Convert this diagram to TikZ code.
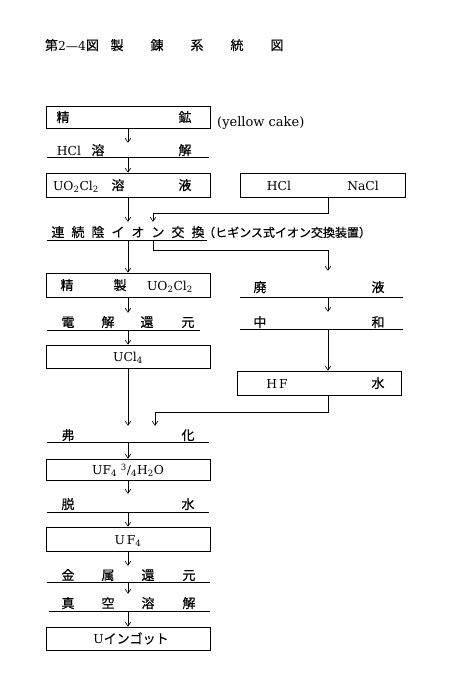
\documentclass[tikz,border=0pt]{standalone}
\usepackage{fontspec}
\setmainfont{DejaVu Serif}
\newfontfamily\jp[FakeBold=0.4]{Noto Sans CJK JP}
\usetikzlibrary{arrows.meta}
\newcommand{\J}[1]{{\jp\fontsize{13}{15}\selectfont #1}}
\tikzset{
  txt/.style={anchor=base, inner sep=0pt, font=\fontsize{12.3}{14}\selectfont},
  jt/.style={anchor=base, inner sep=0pt, font=\jp\fontsize{13}{15}\selectfont},
  bx/.style={draw, line width=0.7pt, inner sep=0pt},
  ul/.style={inner sep=0pt},
  ln/.style={line width=0.7pt},
  arr/.style={line width=0.6pt, -{Straight Barb[length=4pt,width=5.5pt]}}
}
\begin{document}
\begin{tikzpicture}[x=1pt,y=-1pt]
\useasboundingbox (0,0) rectangle (455,689);
% title
\node[txt] (tA) at (72,50) {\J{第}2—4\J{図}};
\node[jt] (tB) at (117,50) {製};
\node[jt] (tC) at (157,50) {錬};
\node[jt] (tD) at (197,50) {系};
\node[jt] (tE) at (237,50) {統};
\node[jt] (tF) at (277,50) {図};

% boxes (left column)
\node[bx, minimum width=164pt, minimum height=22pt] (b1) at (128,117) {};
\node[bx, minimum width=164pt, minimum height=24pt] (b2) at (128,185) {};
\node[bx, minimum width=164pt, minimum height=24pt] (b3) at (128,285) {};
\node[bx, minimum width=164pt, minimum height=23pt] (b4) at (128,356.5) {};
\node[bx, minimum width=164pt, minimum height=21pt] (b5) at (128,469.5) {};
\node[bx, minimum width=164pt, minimum height=24pt] (b6) at (128,539) {};
\node[bx, minimum width=164pt, minimum height=23pt] (b7) at (128,638.5) {};
% boxes (right column)
\node[bx, minimum width=165pt, minimum height=24pt] (r1) at (322.5,185) {};
\node[bx, minimum width=164pt, minimum height=24pt] (r2) at (319,383) {};

% underlined steps
\node[ul, minimum width=162pt, minimum height=14pt] (s1) at (128,150) {};
\node[ul, minimum width=160pt, minimum height=18pt] (s2) at (127,231) {};
\node[ul, minimum width=153pt, minimum height=17pt] (s3) at (123.5,321.5) {};
\node[ul, minimum width=162pt, minimum height=16pt] (s4) at (128,434) {};
\node[ul, minimum width=162pt, minimum height=18pt] (s5) at (128,503) {};
\node[ul, minimum width=163pt, minimum height=16pt] (s6) at (128.5,574) {};
\node[ul, minimum width=161pt, minimum height=17pt] (s7) at (129.5,602.5) {};
\node[ul, minimum width=163pt, minimum height=26pt] (w1) at (321.5,284) {};
\node[ul, minimum width=163pt, minimum height=17pt] (n1) at (321.5,320.5) {};
\foreach \n in {s1,s2,s3,s4,s5,s6,s7,w1,n1}
  \draw[ln] (\n.south west) -- (\n.south east);

% texts
\node[jt] (x1a) at (63,122) {精};
\node[jt] (x1b) at (185,122) {鉱};
\node[txt, anchor=base west, font=\fontsize{13}{15}\selectfont] (x1c) at (217,126) {(yellow cake)};
\node[txt] (x2a) at (69,155) {HCl};
\node[jt] (x2b) at (98,155) {溶};
\node[jt] (x2c) at (185,155) {解};
\node[txt] (x3a) at (76,190) {UO\textsubscript{2}Cl\textsubscript{2}};
\node[jt] (x3b) at (118,190) {溶};
\node[jt] (x3c) at (185,190) {液};
\node[txt] (x4a) at (279,190) {HCl};
\node[txt] (x4b) at (363,190) {NaCl};
\node[jt] (x5a) at (58,237) {連};
\node[jt] (x5b) at (78,237) {続};
\node[jt] (x5c) at (98,237) {陰};
\node[jt] (x5d) at (118,237) {イ};
\node[jt] (x5e) at (138,237) {オ};
\node[jt] (x5f) at (158,237) {ン};
\node[jt] (x5g) at (178,237) {交};
\node[jt] (x5h) at (198,237) {換};
\node[jt, anchor=base west, font=\jp\fontsize{12}{14}\selectfont] (x5i) at (203,237) {（ヒギンス式イオン交換装置）};
\node[jt] (x6a) at (67,290) {精};
\node[jt] (x6b) at (120,290) {製};
\node[txt] (x6c) at (170,290) {UO\textsubscript{2}Cl\textsubscript{2}};
\node[jt] (x7a) at (260,292) {廃};
\node[jt] (x7b) at (378,292) {液};
\node[jt] (x8a) at (68,327) {電};
\node[jt] (x8b) at (108,327) {解};
\node[jt] (x8c) at (147,327) {還};
\node[jt] (x8d) at (188,327) {元};
\node[jt] (x9a) at (260,327) {中};
\node[jt] (x9b) at (378,327) {和};
\node[txt] (x10) at (128,361.5) {UCl\textsubscript{4}};
\node[txt] (x11a) at (277,388) {H\,F};
\node[jt] (x11b) at (378,388) {水};
\node[jt] (x12a) at (68,440) {弗};
\node[jt] (x12b) at (188,440) {化};
\node[txt] (x13) at (128,474.5) {UF\textsubscript{4} \textsuperscript{3}/\textsubscript{4}H\textsubscript{2}O};
\node[jt] (x14a) at (68,509) {脱};
\node[jt] (x14b) at (188,509) {水};
\node[txt] (x15) at (128,544) {U\,F\textsubscript{4}};
\node[jt] (x16a) at (68,580) {金};
\node[jt] (x16b) at (108,580) {属};
\node[jt] (x16c) at (148,580) {還};
\node[jt] (x16d) at (189,580) {元};
\node[jt] (x17a) at (68,608) {真};
\node[jt] (x17b) at (108,608) {空};
\node[jt] (x17c) at (148,608) {溶};
\node[jt] (x17d) at (189,608) {解};
\node[txt] (x18) at (131,643.5) {U\J{インゴット}};

% connectors (left column)
\draw[arr] (b1.south) -- (b1.south |- s1.north);
\draw[arr] (s1.south) -- (s1.south |- b2.north);
\draw[arr] (b2.south) -- (b2.south |- s2.north);
\draw[arr] (b2.south |- s2.south) -- (b2.south |- b3.north);
\draw[arr] (b3.south) -- (b3.south |- s3.north);
\draw[arr] (b3.south |- s3.south) -- (b3.south |- b4.north);
\draw[arr] (b4.south) -- (b4.south |- s4.north);
\draw[arr] (s4.south) -- (s4.south |- b5.north);
\draw[arr] (b5.south) -- (b5.south |- s5.north);
\draw[arr] (s5.south) -- (s5.south |- b6.north);
\draw[arr] (b6.south) -- (b6.south |- s6.north);
\draw[arr] (b6.south |- s6.south) -- (b6.south |- s7.north);
\draw[arr] (b6.south |- s7.south) -- (b6.south |- b7.north);
% connectors (right side)
\draw[arr] ([xshift=5.5pt]r1.south) -- ++(0,16) -| ([xshift=26pt]s2.north);
\draw[arr] ([xshift=26pt]s2.south) -- ++(0,10) -| ([xshift=6.5pt]w1.north);
\draw[arr] ([xshift=6.5pt]w1.south) -- ([xshift=6.5pt]n1.north);
\draw[arr] ([xshift=6.5pt]n1.south) -- ([xshift=6.5pt]n1.south |- r2.north);
\draw[arr] ([xshift=9pt]r2.south) -- ++(0,17) -| ([xshift=27pt]s4.north);
\end{tikzpicture}
\end{document}
